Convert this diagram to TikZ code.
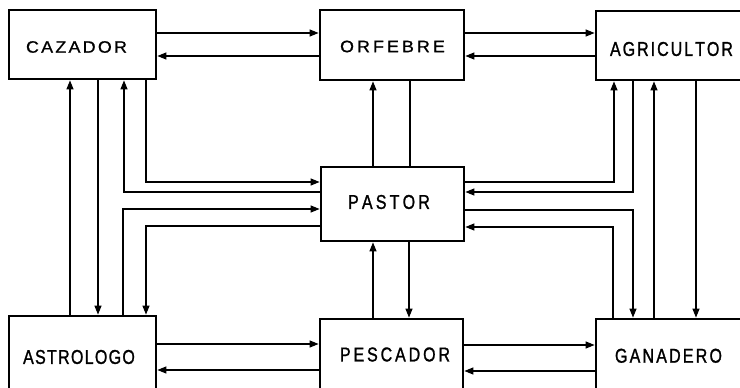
\documentclass[tikz,border=0pt]{standalone}
\usepackage{fontspec}
\setmainfont{Liberation Sans}
\newfontfamily\bigfont{Liberation Sans}[FakeStretch=0.8, FakeBold=1.2]
\newfontfamily\smallfont{Liberation Sans}[FakeStretch=1.08, FakeBold=0.9]
\usetikzlibrary{arrows.meta}
\newcommand\lspaced[2]{\def\lgap{#1}\lspA#2\relax}
\def\lspA#1#2{#1\ifx#2\relax\else\kern\lgap\relax\expandafter\lspA\fi#2}
\tikzset{
  box/.style={draw, line width=2.8pt, inner sep=0pt, rectangle},
  lbl/.style={inner sep=0pt, outer sep=0pt},
  big/.style={font=\bigfont\fontsize{20}{20}\selectfont},
  small/.style={font=\smallfont\fontsize{16.5}{17}\selectfont},
  conn/.style={line width=1.2pt, -{Triangle[length=9pt,width=7pt]}},
  plainline/.style={line width=1.2pt},
}
\begin{document}
\begin{tikzpicture}[x=1pt,y=-1pt]
\path[use as bounding box] (0,0) rectangle (740,388);
\clip (0,0) rectangle (740,388);
\fill[white] (0,0) rectangle (740,388);
% boxes
\node[box, minimum width=147pt, minimum height=69pt] (caz) at (82.5,44.5) {};
\node[box, minimum width=144pt, minimum height=70pt] (orf) at (392,45) {};
\node[box, minimum width=148pt, minimum height=69pt] (agr) at (670,45.5) {};
\node[box, minimum width=143pt, minimum height=74pt] (pas) at (392.5,204) {};
\node[box, minimum width=147pt, minimum height=76pt] (ast) at (82.5,354) {};
\node[box, minimum width=143pt, minimum height=74pt] (pes) at (391.5,356) {};
\node[box, minimum width=148pt, minimum height=74pt] (gan) at (670,356) {};
% labels
\node[lbl, small] (cazT) at (76.5,47) {\lspaced{2.3pt}{CAZADOR}};
\node[lbl, small] (orfT) at (392.5,46.5) {\lspaced{3.1pt}{ORFEBRE}};
\node[lbl, big] (agrT) at (671.5,49) {\lspaced{2pt}{AGRICULTOR}};
\node[lbl, big] (pasT) at (389,202) {\lspaced{3.2pt}{PASTOR}};
\node[lbl, big] (astT) at (79,357) {\lspaced{1.3pt}{ASTROLOGO}};
\node[lbl, big] (pesT) at (395,354.5) {\lspaced{2.9pt}{PESCADOR}};
\node[lbl, big] (ganT) at (668.5,355.8) {\lspaced{2.2pt}{GANADERO}};
% top row
\draw[conn] (caz.east |- 0,33) -- (orf.west |- 0,33);
\draw[conn] (orf.west |- 0,56) -- (caz.east |- 0,56);
\draw[conn] (orf.east |- 0,33) -- (agr.west |- 0,33);
\draw[conn] (agr.west |- 0,56) -- (orf.east |- 0,56);
% bottom row
\draw[conn] (ast.east |- 0,344) -- (pes.west |- 0,344);
\draw[conn] (pes.west |- 0,370) -- (ast.east |- 0,370);
\draw[conn] (pes.east |- 0,345) -- (gan.west |- 0,345);
\draw[conn] (gan.west |- 0,371) -- (pes.east |- 0,371);
% left column
\draw[conn] (ast.north -| 70,0) -- (caz.south -| 70,0);
\draw[conn] (caz.south -| 98,0) -- (ast.north -| 98,0);
\draw[conn] (pas.west |- 0,192) -| (caz.south -| 124,0);
\draw[conn] (caz.south -| 146,0) |- (pas.west |- 0,182);
\draw[conn] (ast.north -| 123,0) |- (pas.west |- 0,209);
\draw[conn] (pas.west |- 0,226) -| (ast.north -| 146,0);
% right column
\draw[conn] (pas.east |- 0,182) -| (agr.south -| 614,0);
\draw[conn] (agr.south -| 633,0) |- (pas.east |- 0,192);
\draw[conn] (gan.north -| 654,0) -- (agr.south -| 654,0);
\draw[conn] (agr.south -| 696,0) -- (gan.north -| 696,0);
\draw[conn] (pas.east |- 0,210) -| (gan.north -| 633,0);
\draw[conn] (gan.north -| 613,0) |- (pas.east |- 0,227);
% middle column
\draw[conn] (pas.north -| 373,0) -- (orf.south -| 373,0);
\draw[plainline] (orf.south -| 410,0) -- (pas.north -| 410,0);
\draw[conn] (pes.north -| 373,0) -- (pas.south -| 373,0);
\draw[conn] (pas.south -| 409,0) -- (pes.north -| 409,0);
\end{tikzpicture}
\end{document}
